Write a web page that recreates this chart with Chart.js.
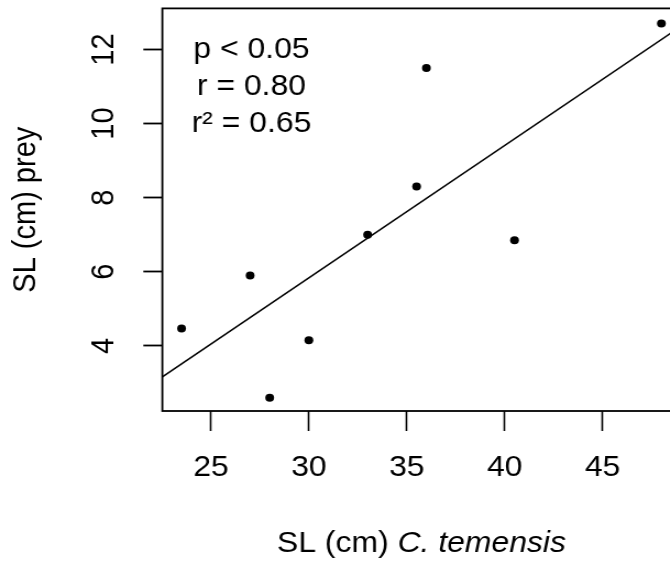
<!DOCTYPE html>
<html>
<head>
<meta charset="utf-8">
<script src="https://cdn.jsdelivr.net/npm/chart.js@4.4.1/dist/chart.umd.min.js"></script>
<style>
  html, body { margin: 0; padding: 0; background: #fff; overflow: hidden; width: 670px; height: 564px; }
  /* the reference is a little stretched sideways */
  #wrap { width: 640px; height: 564px; transform: scaleX(1.1); transform-origin: 0 0; }
</style>
</head>
<body>
<div id="wrap"><canvas id="myChart" width="640" height="564"></canvas></div>
<script>
// SL of C. temensis (cm) against SL of its prey (cm)
const predatorSL = [23.5, 27, 28, 30, 33, 35.5, 36, 40.5, 48];
const preySL = [4.47, 5.9, 2.6, 4.15, 7.0, 8.3, 11.5, 6.85, 12.7];

// regression line, read where it meets the plot edges
const fitX = [22.52, 48.98];
const fitY = [3.16, 12.62];

const xTicks = [25, 30, 35, 40, 45];
const yTicks = [4, 6, 8, 10, 12];
const xRange = [22.52, 48.98];
const yRange = [2.24, 13.11];

const statLines = ['p < 0.05', 'r = 0.80', 'r\u00b2 = 0.65'];
const statAnchor = { x: 27.07, y: 11.76 };  // centre of the text / first baseline

const fontFamily = '"Liberation Sans", Arial, Helvetica, sans-serif';
const fontSize = 29;

const frameAndText = {
    id: 'frameAndText',
    afterDraw(chart) {
        const ctx = chart.ctx;
        const area = chart.chartArea;
        const xs = chart.scales.x;
        const ys = chart.scales.y;
        ctx.save();
        ctx.strokeStyle = '#000';
        ctx.lineWidth = 1.8;
        ctx.strokeRect(area.left, area.top, area.right - area.left, area.bottom - area.top);

        ctx.fillStyle = '#000';
        ctx.textAlign = 'center';
        ctx.textBaseline = 'alphabetic';
        ctx.font = fontSize + 'px ' + fontFamily;
        const cx = xs.getPixelForValue(statAnchor.x);
        const y0 = ys.getPixelForValue(statAnchor.y);
        statLines.forEach((t, i) => ctx.fillText(t, cx, y0 + i * 37));

        // x title, species name in italics
        const plain = 'SL (cm) ';
        const ital = 'C. temensis';
        ctx.font = fontSize + 'px ' + fontFamily;
        const w1 = ctx.measureText(plain).width;
        ctx.font = 'italic ' + fontSize + 'px ' + fontFamily;
        const w2 = ctx.measureText(ital).width;
        const start = (area.left + area.right) / 2 - (w1 + w2) / 2;
        ctx.textAlign = 'left';
        ctx.font = fontSize + 'px ' + fontFamily;
        ctx.fillText(plain, start, 552);
        ctx.font = 'italic ' + fontSize + 'px ' + fontFamily;
        ctx.fillText(ital, start + w1, 552);
        ctx.restore();
    }
};

const tickFont = { size: fontSize, family: fontFamily };

// keep the plot box where the reference has it
function noScalePadding(s) {
    s.paddingTop = 0;
    s.paddingBottom = 0;
    s.paddingLeft = 0;
    s.paddingRight = 0;
}

const ctx = document.getElementById('myChart').getContext('2d');
const myChart = new Chart(ctx, {
    type: 'scatter',
    data: {
        datasets: [{
            label: 'fish',
            data: predatorSL.map((x, i) => ({ x: x, y: preySL[i] })),
            backgroundColor: '#000',
            borderWidth: 0,
            pointRadius: 4
        }, {
            label: 'fit',
            data: fitX.map((x, i) => ({ x: x, y: fitY[i] })),
            showLine: true,
            borderColor: '#000',
            borderWidth: 1.6,
            pointRadius: 0
        }]
    },
    plugins: [frameAndText],
    options: {
        responsive: false,
        animation: false,
        events: [],
        layout: { padding: { left: 0, right: 21.3, top: 8.4, bottom: 0 } },
        plugins: {
            legend: { display: false },
            tooltip: { enabled: false }
        },
        scales: {
            x: {
                type: 'linear',
                position: 'bottom',
                min: xRange[0],
                max: xRange[1],
                afterBuildTicks: s => { s.ticks = xTicks.map(v => ({ value: v })); },
                afterFit: s => { s.height = 153; noScalePadding(s); },
                border: { display: false },
                grid: { drawOnChartArea: false, drawTicks: true, tickLength: 20, tickColor: '#000', tickWidth: 1.6 },
                ticks: { color: '#000', font: tickFont, padding: 19.8, minRotation: 0, maxRotation: 0, autoSkip: false }
            },
            y: {
                type: 'linear',
                position: 'left',
                min: yRange[0],
                max: yRange[1],
                afterBuildTicks: s => { s.ticks = yTicks.map(v => ({ value: v })); },
                afterFit: s => { s.width = 147.6; noScalePadding(s); },
                border: { display: false },
                grid: { drawOnChartArea: false, drawTicks: true, tickLength: 17.3, tickColor: '#000', tickWidth: 1.8 },
                ticks: { color: '#000', font: tickFont, padding: 19.5, minRotation: 90, maxRotation: 90, crossAlign: 'center', autoSkip: false },
                title: {
                    display: true,
                    text: 'SL (cm) prey',
                    color: '#000',
                    font: tickFont,
                    padding: { top: 6.4, bottom: 0 }
                }
            }
        }
    }
});
</script>
</body>
</html>
